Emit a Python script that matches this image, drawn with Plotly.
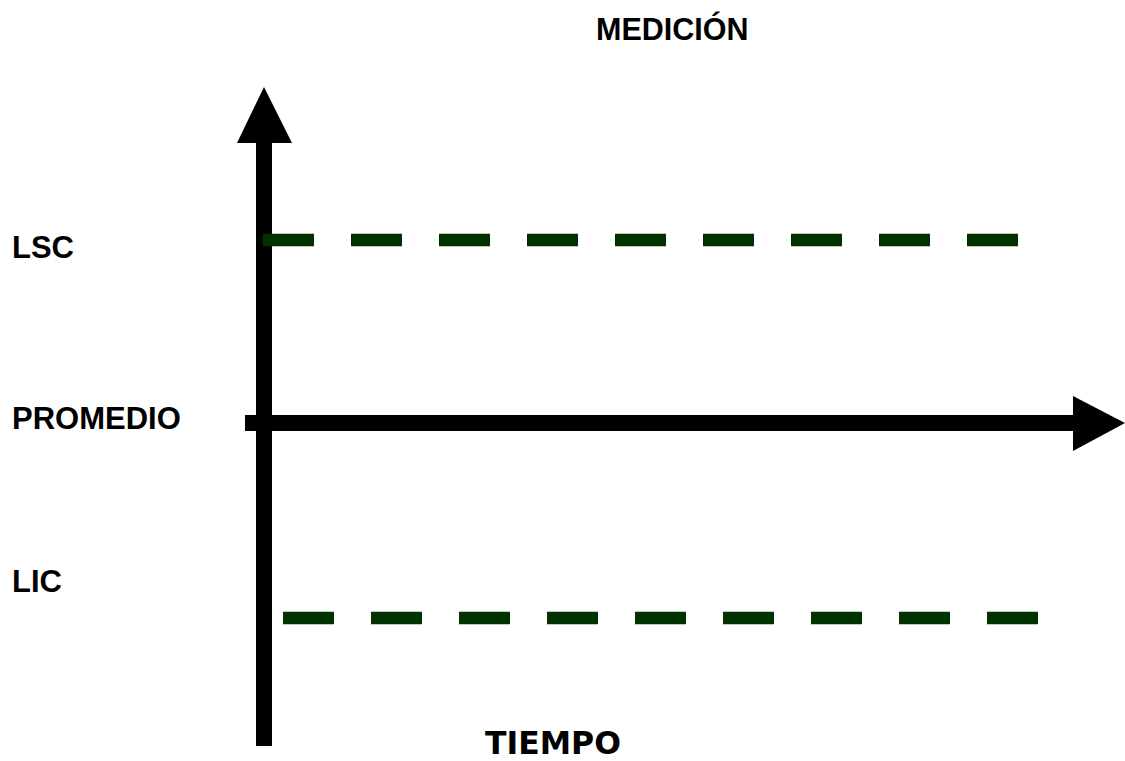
import plotly.graph_objects as go

# ---- diagram data (diagram units = page pixels, y grows downward) ----
level_names = ["LSC", "PROMEDIO", "LIC"]
level_y = [240, 423, 618]              # control limit / mean levels
limit_x_start = [263, 283]             # LSC, LIC dashed line starts
limit_x_end = [1018, 1038]             # LSC, LIC dashed line ends
limit_y = [240, 618]

vaxis_x = 264
vaxis_y = [746, 140]
vhead_x = [237, 292, 264]
vhead_y = [143, 143, 87]

haxis_y = 423
haxis_x = [245, 1076]
hhead_x = [1073, 1073, 1125]
hhead_y = [396, 451, 423]

title_top = "MEDICIÓN"
title_bottom = "TIEMPO"
label_y = [247.5, 418, 581]

BLACK = "#000000"
GREEN = "#003300"

fig = go.Figure()

# vertical axis (MEDICIÓN)
fig.add_trace(go.Scatter(x=[vaxis_x, vaxis_x], y=vaxis_y, mode="lines",
                         line=dict(color=BLACK, width=16)))
fig.add_trace(go.Scatter(x=vhead_x, y=vhead_y, mode="lines", fill="toself",
                         fillcolor=BLACK, line=dict(color=BLACK, width=0)))
# horizontal axis (TIEMPO) at PROMEDIO
fig.add_trace(go.Scatter(x=haxis_x, y=[haxis_y, haxis_y], mode="lines",
                         line=dict(color=BLACK, width=16)))
fig.add_trace(go.Scatter(x=hhead_x, y=hhead_y, mode="lines", fill="toself",
                         fillcolor=BLACK, line=dict(color=BLACK, width=0)))
# control limits
for xs, xe, y in zip(limit_x_start, limit_x_end, limit_y):
    fig.add_trace(go.Scatter(x=[xs, xe], y=[y, y], mode="lines",
                             line=dict(color=GREEN, width=12.5, dash="51px,37px")))

FONT = "Liberation Sans, Arial, sans-serif"
fig.add_annotation(x=672.5, y=28, text=f"<b>{title_top}</b>", showarrow=False,
                   xanchor="center", yanchor="middle",
                   font=dict(family=FONT, size=30.5, color=BLACK))
fig.add_annotation(x=552.5, y=743, text=f"<b>{title_bottom}</b>", showarrow=False,
                   xanchor="center", yanchor="middle",
                   font=dict(family="DejaVu Sans, sans-serif", size=31.5, color=BLACK))
for name, y in zip(level_names, label_y):
    fig.add_annotation(x=10, y=y, text=f"<b>{name}</b>", showarrow=False,
                       xanchor="left", yanchor="middle",
                       font=dict(family=FONT, size=31, color=BLACK))

fig.update_layout(
    width=1125, height=761,
    margin=dict(l=0, r=0, t=0, b=0),
    paper_bgcolor="white", plot_bgcolor="white",
    showlegend=False, hovermode=False,
    xaxis=dict(range=[0, 1125], visible=False, fixedrange=True),
    yaxis=dict(range=[761, 0], visible=False, fixedrange=True),
)

fig.write_html("out.html", config={"displayModeBar": False},
               post_script="document.body.style.margin='0';document.body.style.overflow='hidden';")
